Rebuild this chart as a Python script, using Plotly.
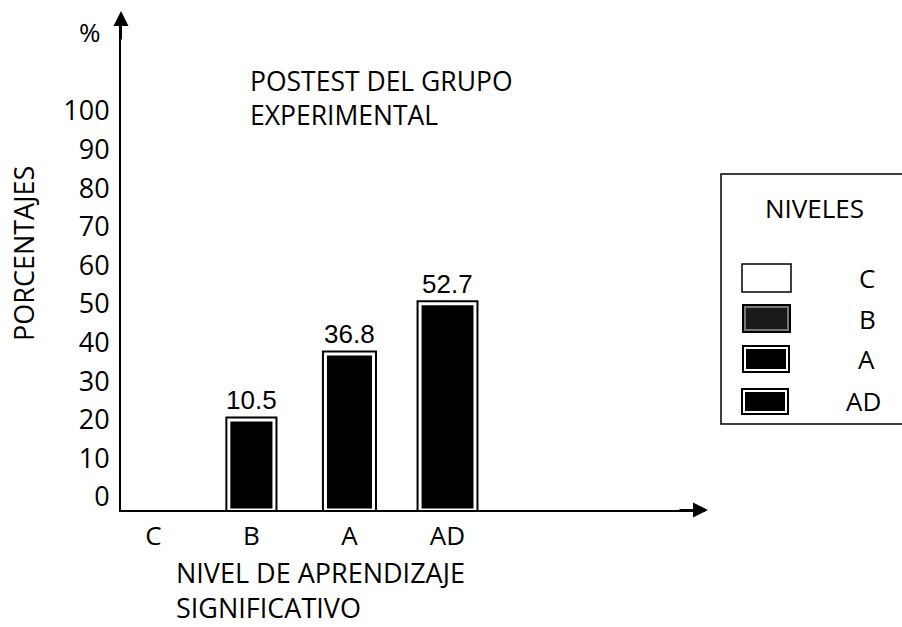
import plotly.graph_objects as go

# ---- data ----
categories = ["C", "B", "A", "AD"]
bar_heights = [0, 23.3, 40.4, 53.4]          # heights as drawn in the picture
value_labels = ["", "10.5", "36.8", "52.7"]   # printed value labels
y_ticks = [0, 10, 20, 30, 40, 50, 60, 70, 80, 90, 100]
chart_title = ["POSTEST DEL GRUPO", "EXPERIMENTAL"]
x_title = ["NIVEL DE APRENDIZAJE", "SIGNIFICATIVO"]
y_title = "PORCENTAJES"
legend_title = "NIVELES"

# ---- layout geometry (pixels) ----
W, H = 902, 627
L, R, T, B = 121, 705, 15, 510


def px(x):
    return (x - L) / (R - L)


def py(y):
    return (B - y) / (B - T)


FONT = "Open Sans"
FS = 27
bar_widths = [0.46, 0.46, 0.49, 0.56]

fig = go.Figure()
fig.add_trace(go.Bar(
    x=categories, y=bar_heights, width=bar_widths,
    marker=dict(color="black", line=dict(color="black", width=[0, 7, 7, 7])),
    showlegend=False, hoverinfo="skip",
))
fig.add_trace(go.Bar(
    x=categories, y=bar_heights, width=bar_widths,
    marker=dict(color="black", line=dict(color="white", width=[0, 3, 3, 3])),
    showlegend=False, hoverinfo="skip",
))

annotations = []
for c, h, t in zip(categories, bar_heights, value_labels):
    if t:
        annotations.append(dict(x=c, y=h, xref="x", yref="y", text=t, showarrow=False,
                                yanchor="middle", yshift=20,
                                font=dict(family="Liberation Sans", size=26, color="black")))

# axis arrows
annotations.append(dict(x=0, y=py(11), xref="paper", yref="paper", ax=0, ay=30,
                        axref="pixel", ayref="pixel", text="", showarrow=True,
                        arrowhead=2, arrowsize=1.5, arrowwidth=2, arrowcolor="black", standoff=0))
annotations.append(dict(x=px(708), y=0, xref="paper", yref="paper", ax=-30, ay=0,
                        axref="pixel", ayref="pixel", text="", showarrow=True,
                        arrowhead=2, arrowsize=1.5, arrowwidth=2, arrowcolor="black", standoff=0))


def txt(text, x, y, xanchor="center", angle=0, size=FS, family=FONT, align="center"):
    annotations.append(dict(x=px(x), y=py(y), xref="paper", yref="paper", text=text,
                            showarrow=False, xanchor=xanchor, yanchor="middle", align=align,
                            textangle=angle, font=dict(family=family, size=size, color="black")))


txt("%", 90, 32, size=26)
txt("<br>".join(chart_title), 248, 98, xanchor="left", size=26.5, align="left")
txt("<br>".join(x_title), 174, 590, xanchor="left", size=27, align="left")
txt(y_title, 23, 254, angle=-90, size=27)

# custom legend
shapes = []


def rect(x0, y0, x1, y1, fill, line_color=None, lw=0):
    shapes.append(dict(type="rect", xref="paper", yref="paper",
                       x0=px(x0), x1=px(x1), y0=py(y1), y1=py(y0),
                       fillcolor=fill, line=dict(color=line_color or fill, width=lw)))


rect(721, 174, 915, 424, "rgba(0,0,0,0)", "black", 1.5)
txt(legend_title, 814, 208, size=26)
swatches = [(742, 264, 791, 292), (742, 304, 791, 333), (742, 345, 790, 373), (741, 388, 789, 415)]
label_pos = [(867, 278), (867, 319), (866, 359), (863, 401)]
for i, (cat, (x0, y0, x1, y1), (lx, ly)) in enumerate(zip(categories, swatches, label_pos)):
    if i == 0:
        rect(x0, y0, x1, y1, "white", "black", 1.5)
    else:
        rect(x0, y0, x1, y1, "black")
        ring = "#777" if i == 1 else "white"
        rect(x0 + 2, y0 + 2, x1 - 2, y1 - 2, ring)
        rect(x0 + 4, y0 + 4, x1 - 4, y1 - 4, "#1a1a1a" if i == 1 else "black")
    txt(cat, lx, ly, size=26)

fig.update_layout(
    width=W, height=H,
    margin=dict(l=L, r=W - R, t=T, b=H - B),
    paper_bgcolor="white", plot_bgcolor="white",
    barmode="overlay", showlegend=False,
    font=dict(family=FONT, size=FS, color="black"),
    annotations=annotations, shapes=shapes,
    xaxis=dict(range=[-0.33, 5.626], showgrid=False, zeroline=False,
               showline=True, linecolor="black", linewidth=2, ticks="",
               tickfont=dict(family=FONT, size=26, color="black"),
               ticklabelstandoff=2, fixedrange=True),
    yaxis=dict(range=[0, 128.2], tickvals=y_ticks, showgrid=False, zeroline=False,
               showline=True, linecolor="black", linewidth=2, ticks="",
               tickfont=dict(family=FONT, size=27, color="black"),
               ticklabelshift=-13, ticklabelstandoff=4, fixedrange=True),
)

fig.write_html("out.html", config={"displayModeBar": False},
               post_script="document.body.style.margin='0px';")
